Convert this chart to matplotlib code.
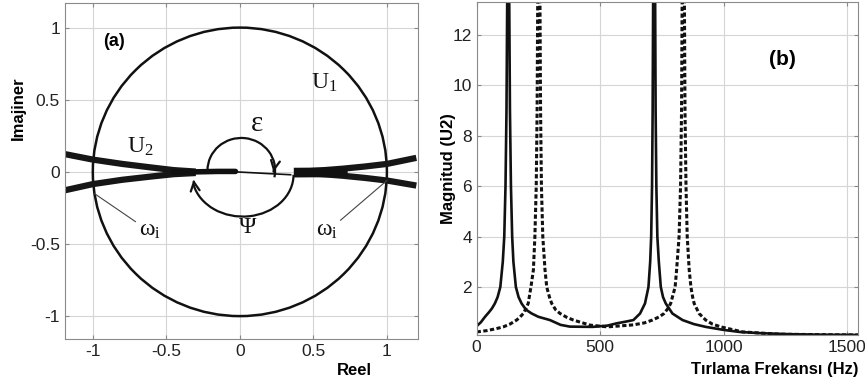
import matplotlib as mpl
mpl.use('Agg')
import matplotlib.pyplot as plt
from matplotlib.patches import Arc, Circle

plt.rcParams['font.family'] = ['Liberation Sans', 'DejaVu Sans']
plt.rcParams['axes.unicode_minus'] = False
plt.rcParams['mathtext.fontset'] = 'custom'
plt.rcParams['mathtext.rm'] = 'Liberation Serif'
plt.rcParams['mathtext.it'] = 'Liberation Serif:italic'

# ---- (a) complex plane ----
u1_radius = 1.0

u2_left_re = [-1.2, -1.0, -0.8, -0.6, -0.45, -0.3]
u2_left_up = [0.125, 0.085, 0.055, 0.03, 0.012, 0.002]
u2_left_dn = [-0.13, -0.085, -0.055, -0.032, -0.016, -0.008]
u2_mid_re = [-0.45, -0.3, -0.15, -0.03]
u2_mid_im = [0.0, 0.0, 0.003, 0.003]
u2_thin_re = [-0.03, 0.345]
u2_thin_im = [0.0, -0.02]
u2_right_re = [0.4, 0.55, 0.7, 0.85, 1.0, 1.2]
u2_right_up = [0.0, 0.01, 0.022, 0.037, 0.055, 0.097]
u2_right_dn = [-0.01, -0.015, -0.027, -0.042, -0.06, -0.095]

# ---- (b) magnitude vs chirp frequency ----
f_solid = [0, 17, 34, 50, 62, 74, 85, 96, 106, 112, 117, 121, 124, 128, 132, 135,
           139, 144, 149, 159, 170, 182, 200, 223, 250, 297, 340, 378, 470, 530,
           567, 600, 635, 662, 682, 696, 703, 707, 710.5, 713, 715, 719, 723, 725,
           728, 732, 738, 746, 755, 766, 793, 834, 880, 928, 1000, 1064, 1150,
           1267, 1400, 1545]
m_solid = [0.45, 0.6, 0.82, 1.0, 1.15, 1.35, 1.6, 2.0, 3.0, 4.0, 6.0, 9.0, 13.5, 60,
           13.5, 9.0, 6.0, 4.0, 3.0, 2.0, 1.6, 1.35, 1.1, 0.95, 0.82, 0.69, 0.5, 0.43,
           0.42, 0.47, 0.56, 0.62, 0.69, 0.95, 1.35, 2.0, 3.0, 4.0, 6.0, 9.0, 13.5, 60,
           13.5, 9.0, 6.0, 4.0, 3.0, 2.0, 1.6, 1.35, 0.95, 0.69, 0.53, 0.42, 0.3,
           0.22, 0.17, 0.13, 0.11, 0.1]

f_dash = [0, 40, 80, 108, 135, 162, 175, 189, 200, 209, 220, 230, 236, 241.5, 245,
          247.5, 252, 256.5, 259, 262.5, 268, 277, 284, 295, 304, 320, 338, 365, 392,
          459, 530, 635, 680, 712, 740, 759, 775, 786, 804, 810, 820, 826, 830, 832.5,
          837, 841.5, 844, 848, 853, 861, 868, 875, 881, 901, 928, 955, 989, 1077,
          1226, 1400, 1545]
m_dash = [0.22, 0.27, 0.35, 0.42, 0.53, 0.69, 0.8, 0.95, 1.15, 1.35, 2.0, 2.68, 4.0,
          6.0, 9.0, 13.5, 60, 13.5, 9.0, 6.0, 4.0, 2.68, 2.0, 1.6, 1.35, 1.1, 0.95,
          0.8, 0.69, 0.49, 0.42, 0.5, 0.58, 0.69, 0.82, 0.95, 1.15, 1.35, 2.0, 2.68,
          4.0, 6.0, 9.0, 13.5, 60, 13.5, 9.0, 6.0, 4.0, 2.68, 2.0, 1.6, 1.35, 0.95,
          0.69, 0.53, 0.42, 0.22, 0.13, 0.11, 0.1]

fig = plt.figure(figsize=(8.65, 3.85), dpi=100)
ax1 = fig.add_axes([0.075, 0.119, 0.408, 0.873])
ax2 = fig.add_axes([0.551, 0.130, 0.441, 0.865])

for ax in (ax1, ax2):
    ax.grid(True, color='#d5d5d5', lw=0.8)
    ax.set_axisbelow(True)
    ax.tick_params(direction='in', top=True, right=True, length=3,
                   color='#888888', labelsize=12.5, labelcolor='#222222')
    for s in ax.spines.values():
        s.set_color('#8a8a8a')
        s.set_linewidth(0.8)

# panel (a)
ax1.add_patch(Circle((0, 0), u1_radius, fill=False, ec='#111111', lw=1.8))
band = dict(color='#161616', lw=4.5, solid_capstyle='butt')
ax1.plot(u2_left_re, u2_left_up, **band)
ax1.plot(u2_left_re, u2_left_dn, **band)
ax1.plot(u2_mid_re, u2_mid_im, color='#111111', lw=4, solid_capstyle='round')
ax1.plot(u2_thin_re, u2_thin_im, color='#111111', lw=1.2)
ax1.plot(u2_right_re, u2_right_up, **band)
ax1.plot(u2_right_re, u2_right_dn, **band)
ax1.plot([u2_right_re[0], u2_right_re[2]], [-0.005, -0.003], color='#111111', lw=7)

# epsilon arc (top, clockwise) and psi arc (bottom)
ax1.add_patch(Arc((0.01, 0.01), 0.46, 0.45, theta1=-12, theta2=180,
                  color='#111111', lw=1.6))
ax1.annotate('', xy=(0.225, -0.02), xytext=(0.232, 0.02),
             arrowprops=dict(arrowstyle='->', color='#111111', lw=1.6,
                             mutation_scale=16))
ax1.add_patch(Arc((0.02, -0.02), 0.69, 0.58, theta1=192, theta2=360,
                  color='#111111', lw=1.6))
ax1.annotate('', xy=(-0.318, -0.035), xytext=(-0.31, -0.09),
             arrowprops=dict(arrowstyle='->', color='#111111', lw=1.6,
                             mutation_scale=16))

# leader lines to omega_i
ax1.plot([-0.99, -0.71], [-0.15, -0.345], color='#444444', lw=0.8)
ax1.plot([1.0, 0.685], [-0.06, -0.335], color='#444444', lw=0.8)

serif = dict(fontsize=17, ha='center', va='center', color='#111111')
ax1.text(0.575, 0.62, r'$\mathrm{U}_\mathrm{1}$', **serif)
ax1.text(-0.675, 0.17, r'$\mathrm{U}_\mathrm{2}$', **serif)
ax1.text(0.118, 0.335, 'ε', family='Liberation Serif', fontsize=21,
         ha='center', va='center', color='#111111')
ax1.text(0.05, -0.385, 'Ψ', family='Liberation Serif', **serif)
ax1.text(-0.61, -0.40, r'$\mathrm{\omega}_\mathrm{i}$', **serif)
ax1.text(0.595, -0.40, r'$\mathrm{\omega}_\mathrm{i}$', **serif)
ax1.text(-0.857, 0.905, '(a)', fontsize=13, fontweight='bold',
         ha='center', va='center')

ax1.set_xlim(-1.19, 1.21)
ax1.set_ylim(-1.16, 1.17)
ax1.set_xticks([-1, -0.5, 0, 0.5, 1])
ax1.set_xticklabels(['-1', '-0.5', '0', '0.5', '1'])
ax1.set_yticks([-1, -0.5, 0, 0.5, 1])
ax1.set_yticklabels(['-1', '-0.5', '0', '0.5', '1'])
ax1.set_xlabel('Reel', fontsize=12, fontweight='bold')
ax1.xaxis.set_label_coords(0.82, -0.07)
ax1.set_ylabel('Imajiner', fontsize=12, fontweight='bold')
ax1.yaxis.set_label_coords(-0.11, 0.687)

# panel (b)
ax2.plot(f_solid, m_solid, color='#111111', lw=1.9)
ax2.plot(f_dash, m_dash, color='#111111', lw=2.2, dashes=(1.4, 0.8))
ax2.text(1240, 11.0, '(b)', fontsize=15, fontweight='bold',
         ha='center', va='center')
ax2.set_xlim(0, 1545)
ax2.set_ylim(0.1, 13.3)
ax2.set_xticks([0, 500, 1000, 1500])
ax2.set_yticks([2, 4, 6, 8, 10, 12])
ax2.set_xlabel('Tırlama Frekansı (Hz)', fontsize=12, fontweight='bold')
ax2.xaxis.set_label_coords(1.0, -0.08)
ax2.xaxis.label.set_ha('right')
ax2.set_ylabel('Magnitud (U2)', fontsize=12, fontweight='bold')
ax2.yaxis.set_label_coords(-0.055, 0.5)

fig.savefig('out.png', dpi=100)
